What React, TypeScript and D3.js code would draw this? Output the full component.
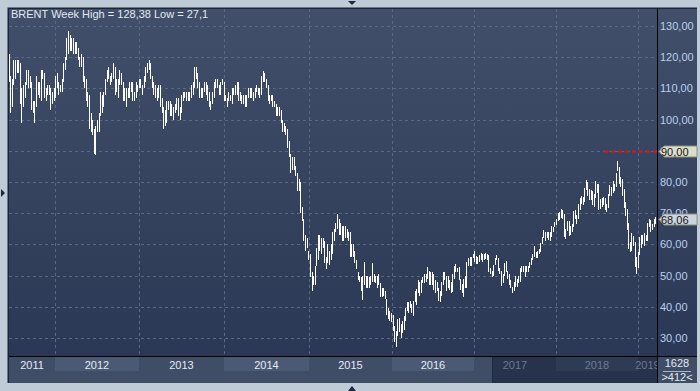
import { useEffect, useRef } from "react";
import * as d3 from "d3";

// weekly bars as [high, low]; the first one is the week of 13 Jun 2011
const weeks2011 = [
  [121, 112], [114, 102], [113, 104], [119, 111], [119, 113], [119, 115], [119, 115],
  [118, 105], [110, 99], [111, 104], [112, 107], [116, 111], [116, 110], [114, 110],
  [112, 103], [106, 102], [106, 99], [114, 104], [112, 108], [112, 107], [116, 106],
  [116, 113], [115, 107], [110, 106], [111, 108], [111, 108], [110, 103], [109, 105],
  [110, 106],
];
const weeks2012 = [
  [114, 107], [115, 110], [112, 108], [111, 109], [113, 109], [118, 112], [120, 116],
  [126, 119], [128.38, 121], [127, 122], [126, 122], [126, 121], [125, 121], [125, 121],
  [123, 119], [120, 117], [121, 117], [120, 112], [114, 110], [113, 106], [109, 104],
  [108, 97], [102, 96], [100, 95], [97, 89], [98, 88.5], [100, 96], [102, 96],
  [109, 101], [108, 102], [109, 104], [113, 108], [116, 112], [117, 113], [114, 111],
  [115, 112], [118, 113], [117, 108], [113, 109], [113, 107], [116, 111], [115, 111],
  [112, 106], [110, 106], [110, 104], [110, 107], [112, 107], [112, 109], [112, 106],
  [109, 106], [112, 107], [111, 109], [113, 110],
];
const weeks2013 = [
  [113, 110], [111, 108], [114, 110], [117, 112], [118, 115], [119, 116], [118, 113],
  [114, 110], [112, 108], [111, 107], [110, 106], [111, 107], [111, 104], [107, 102],
  [104, 97], [103, 98], [106, 99], [106, 103], [106, 101], [105, 101], [104, 100],
  [105, 102], [107, 103], [107, 101], [104, 100], [108, 102], [109, 106], [109, 107],
  [109, 106], [109, 106], [109, 106], [111, 107], [112, 108], [117, 110], [117, 113],
  [115, 110], [112, 107], [110, 107], [110, 107], [112, 109], [112, 108], [111, 106],
  [109, 104], [106, 103], [109, 105], [112, 107], [113, 110], [113, 110], [111, 108],
  [112, 108], [113, 111], [112, 106],
];
const weeks2014 = [
  [108, 106], [107, 104], [109, 106], [108, 106], [110, 105], [110, 108], [111, 108],
  [112, 108], [112, 106], [109, 106], [108, 105], [108, 105], [108, 104], [108, 104],
  [110, 107], [110, 107], [110, 107], [109, 106], [110, 107], [111, 109], [110, 108],
  [110, 107], [114, 108], [115.7, 112], [115, 112], [113, 110], [111, 106], [108, 105],
  [108, 106], [108, 104], [106, 104], [105, 101], [104, 101], [104, 101], [103, 99],
  [100, 96], [99, 96], [98, 95], [97, 91], [93, 88], [89, 83], [88, 84], [88, 84],
  [85, 82], [83, 77], [81, 77], [80, 70], [72, 67.5], [68, 61], [63, 58], [62, 59],
  [58, 55],
];
const weeks2015 = [
  [57, 49.7], [51, 45.2], [50, 47], [53, 47], [59, 53], [63, 55], [63, 58], [62, 57],
  [62, 59], [61, 54], [56, 52], [60, 54], [58, 53.5], [60, 55], [64, 57], [65, 61],
  [67, 64], [69.6, 65], [68, 63], [67, 63], [66, 61], [66, 61], [66, 62], [65, 62],
  [64, 61], [64, 56], [60, 56], [60, 56], [58, 54], [55, 52], [51, 48.5], [50, 48],
  [49.5, 45], [50, 42.2], [54.2, 47], [50, 46], [50, 46], [49.5, 46], [50, 47], [54, 48],
  [50.5, 48], [50, 47.5], [50, 46], [50.5, 47], [47.5, 43], [46, 43], [46, 43.5],
  [45, 42.5], [42.5, 37.5], [39.5, 36], [38.5, 35.5], [38, 35],
];
const weeks2016 = [
  [37.5, 32.2], [34, 28.8], [32.2, 27.1], [36, 30.5], [36.3, 32], [34.5, 30], [35.5, 31.5],
  [37, 32.5], [39.7, 35.5], [41.5, 38.5], [41.6, 38], [41.8, 39.5], [41, 38], [42, 37],
  [45, 41.5], [45.8, 40.5], [48.5, 44.5], [47.8, 43.5], [48.5, 44.5], [49.5, 47.5],
  [50.5, 47.5], [50.5, 48], [52.8, 49], [51.5, 47], [51.3, 47], [51, 47], [50.5, 45.5],
  [48.5, 44.5], [48, 45], [46, 42], [45.2, 41.5], [48, 43.5], [51.2, 47], [51, 48.5],
  [50, 45], [50, 46], [48.5, 45.5], [48, 44.5], [50.5, 44.8], [53, 49], [53.7, 51],
  [52.5, 51], [52.8, 48.5], [49, 45.5], [47.4, 44.5], [48.8, 43], [50, 46], [54.5, 46],
  [55.5, 53], [56, 53], [56, 53], [57, 55.8],
];
const weeks2017 = [
  [58, 54.5], [56.2, 53.6], [56, 53.6], [56.7, 54.2], [57.2, 55], [57, 54.5], [57, 55],
  [57.3, 55.4], [57, 55], [56.5, 51], [52.5, 50.5], [51.5, 49.7], [53.5, 50], [55.5, 53.5],
  [56.6, 55], [55.5, 51.5], [52.5, 50.5], [51.5, 46.6], [50.5, 47.5], [54, 50], [54.6, 51],
  [51.5, 49], [50.5, 47], [48.5, 46], [46.5, 44.4], [48, 45], [50, 46.5], [49, 46.5],
  [50, 47.5], [52.5, 48], [53, 51], [53, 51], [53, 49.5], [53, 51], [53, 51], [54.5, 52.5],
  [55.8, 53.5], [57, 55], [59.5, 56], [57.5, 55.5], [58, 55.5], [58.5, 57], [60.5, 57.5],
  [62.5, 60], [64.6, 62], [64, 61], [64, 62], [64, 61.5], [64, 61], [65.8, 62.5],
  [65.5, 64], [67.2, 65.5],
];
const weeks2018 = [
  [68.3, 66.3], [70, 67.5], [70.4, 67.9], [71.3, 68.5], [71, 68], [69.8, 62.5], [65, 61.8],
  [67.6, 64.3], [67.6, 62.8], [66, 63], [66.5, 64], [70.6, 65.5], [71, 68.3], [69.5, 66.6],
  [73, 68], [74.8, 71], [75.5, 73], [75.3, 72.5], [78, 73.5], [80.5, 77.5], [80, 75.5],
  [77.8, 74.2], [77.5, 74.3], [77, 72.5], [76, 71.9], [80.2, 74.8], [79.5, 76.5],
  [79.5, 71], [74.5, 71.5], [75, 72], [75.3, 72.5], [75, 71], [73, 70.3], [76, 71.6],
  [79, 75.5], [78.5, 75.6], [80.2, 76.5], [79.5, 77], [83, 78.5], [86.7, 83.5],
  [84.7, 79.5], [81.5, 78.5], [81, 75.5], [77.8, 71.8], [73.5, 69.1], [71.5, 64.5],
  [67, 58.4], [60.8, 57.5], [63.7, 57.9], [62.8, 59.5], [60.8, 52.8], [56, 50.5],
  [57.5, 52.5],
];
const weeks2019 = [
  [62.3, 56.5], [63, 58.7], [63, 60], [63.5, 59.5], [63, 61], [66.8, 61], [68, 65.5],
  [67.7, 64], [66.5, 64.5], [68.3, 65.5], [68.7, 66.5], [68.3, 66.3],
];

const yearLabels = ["2011", "2012", "2013", "2014", "2015", "2016", "2017", "2018", "2019"];
const priceTicks = [30, 40, 50, 60, 70, 80, 90, 100, 110, 120, 130];
const alertLevel = 90;
const lastPrice = 68.06;
const titleText = "BRENT Week High = 128,38 Low = 27,1";
const totalBars = "1628";
const shownBars = ">412<";

const W = 700;
const H = 391;
const FONT = "'Liberation Sans', Arial, sans-serif";

function BrentChart() {
  const svgRef = useRef<SVGSVGElement>(null);

  useEffect(() => {
    const svg = d3.select(svgRef.current);
    svg.selectAll("*").remove();

    const left = 9;
    const right = 657;
    const top = 8;
    const plotBottom = 356;
    const axisBottom = 383;
    const panelRight = 697;
    const scrollEdge = 492;

    const weeks = [
      ...weeks2011, ...weeks2012, ...weeks2013, ...weeks2014, ...weeks2015,
      ...weeks2016, ...weeks2017, ...weeks2018, ...weeks2019,
    ];
    const firstWeek = new Date(Date.UTC(2011, 5, 13));
    const bars = weeks.map((w, i) => ({ date: d3.utcDay.offset(firstWeek, i * 7), high: w[0], low: w[1] }));

    const yearStarts = yearLabels.map((yr) => new Date(Date.UTC(+yr, 0, 1)));
    // the chart is bar-indexed, so year widths differ slightly: piecewise time scale
    const x = d3
      .scaleUtc()
      .domain(yearStarts.slice(1))
      .range([55, 139, 224, 309, 392, 474, 556, 638]);
    const y = d3.scaleLinear().domain([30, 130]).range([338, 26]);

    const defs = svg.append("defs");
    const grad = defs
      .append("linearGradient")
      .attr("id", "bg")
      .attr("x1", 0).attr("y1", 0).attr("x2", 0).attr("y2", 1);
    grad.append("stop").attr("offset", "0%").attr("stop-color", "#414f6a");
    grad.append("stop").attr("offset", "100%").attr("stop-color", "#2a3855");
    defs
      .append("clipPath")
      .attr("id", "plotClip")
      .append("rect")
      .attr("x", left).attr("y", top).attr("width", right - left).attr("height", axisBottom - top);

    // frame
    svg.append("rect").attr("width", W).attr("height", H).attr("fill", "#c0cbd8");
    svg.append("rect")
      .attr("x", 7.5).attr("y", 7.5).attr("width", panelRight - 7.5).attr("height", axisBottom - 7.5)
      .attr("fill", "#1c2535");
    svg.append("rect")
      .attr("x", left).attr("y", top + 1).attr("width", panelRight - left).attr("height", plotBottom - top - 1)
      .attr("fill", "url(#bg)");

    // x axis band
    svg.append("rect")
      .attr("x", left).attr("y", plotBottom + 1).attr("width", panelRight - left).attr("height", axisBottom - plotBottom - 1)
      .attr("fill", "#3f4d66");
    svg.append("rect")
      .attr("x", scrollEdge).attr("y", plotBottom + 1).attr("width", right - scrollEdge).attr("height", axisBottom - plotBottom - 1)
      .attr("fill", "#27334c");
    svg.append("line")
      .attr("x1", scrollEdge + 0.5).attr("x2", scrollEdge + 0.5).attr("y1", plotBottom + 1).attr("y2", axisBottom)
      .attr("stroke", "#1f2a3f");

    const band = svg.append("g").attr("clip-path", "url(#plotClip)");
    yearLabels.forEach((yr, i) => {
      const x0 = Math.max(left, x(yearStarts[i]));
      const x1 = Math.min(right, x(new Date(Date.UTC(+yr + 1, 0, 1))));
      const cx = (x0 + x1) / 2;
      const faded = cx > scrollEdge;
      if (i % 2 === 1) {
        band.append("rect")
          .attr("x", Math.round(x0)).attr("y", plotBottom + 1).attr("width", Math.round(x1 - x0)).attr("height", 14)
          .attr("fill", faded ? "#2e3b55" : "#4b5a74");
      }
      band.append("text")
        .attr("x", cx).attr("y", plotBottom + 12.5)
        .attr("text-anchor", "middle")
        .attr("font-family", FONT).attr("font-size", 11)
        .attr("fill", faded ? "#6c7990" : "#e6ebf3")
        .text(yr);
    });

    // grid
    const grid = svg.append("g").attr("stroke", "#5a6983").attr("stroke-dasharray", "3,3");
    priceTicks.forEach((t) => {
      grid.append("line")
        .attr("x1", left).attr("x2", right)
        .attr("y1", Math.round(y(t)) + 0.5).attr("y2", Math.round(y(t)) + 0.5);
    });
    yearStarts.slice(1).forEach((d) => {
      grid.append("line")
        .attr("x1", Math.round(x(d)) + 0.5).attr("x2", Math.round(x(d)) + 0.5)
        .attr("y1", top + 1).attr("y2", plotBottom);
    });

    // weekly high-low bars
    svg.append("g")
      .attr("clip-path", "url(#plotClip)")
      .selectAll("rect")
      .data(bars)
      .join("rect")
      .attr("x", (d) => Math.round(x(d.date)))
      .attr("y", (d) => Math.round(y(d.high)))
      .attr("width", 1)
      .attr("height", (d) => Math.max(1, Math.round(y(d.low)) - Math.round(y(d.high))))
      .attr("fill", "#ffffff");

    // alert line
    svg.append("line")
      .attr("x1", 604).attr("x2", right)
      .attr("y1", Math.round(y(alertLevel)) + 0.5).attr("y2", Math.round(y(alertLevel)) + 0.5)
      .attr("stroke", "#d81818").attr("stroke-width", 2).attr("stroke-dasharray", "4,3");

    // separators
    svg.append("line")
      .attr("x1", left).attr("x2", panelRight).attr("y1", plotBottom + 0.5).attr("y2", plotBottom + 0.5)
      .attr("stroke", "#000");
    svg.append("line")
      .attr("x1", right + 0.5).attr("x2", right + 0.5).attr("y1", top).attr("y2", axisBottom)
      .attr("stroke", "#000");

    // price labels
    const fmt = (v: number) => d3.format(".2f")(v).replace(".", ",");
    priceTicks.forEach((t) => {
      svg.append("text")
        .attr("x", 660).attr("y", y(t) + 4)
        .attr("font-family", FONT).attr("font-size", 11)
        .attr("fill", "#b9d0ee")
        .text(fmt(t));
    });

    const marker = (v: number, fill: string) => {
      const cy = Math.round(y(v)) + 0.5;
      const tip = right + 2;
      svg.append("path")
        .attr("d", `M${tip},${cy} L${tip + 5},${cy - 5.5} L${panelRight},${cy - 5.5} L${panelRight},${cy + 5.5} L${tip + 5},${cy + 5.5} Z`)
        .attr("fill", fill).attr("stroke", "#8a8c86");
      svg.append("text")
        .attr("x", 661).attr("y", cy + 4)
        .attr("font-family", FONT).attr("font-size", 11)
        .attr("fill", "#151515")
        .text(fmt(v));
    };
    marker(alertLevel, "#dedec8");
    marker(lastPrice, "#cdd3dc");

    // title
    svg.append("text")
      .attr("x", 11).attr("y", 18)
      .attr("font-family", FONT).attr("font-size", 11)
      .attr("fill", "#e4e9f1")
      .text(titleText);

    // bar counter
    svg.append("text")
      .attr("x", 677).attr("y", 367)
      .attr("text-anchor", "middle")
      .attr("font-family", FONT).attr("font-size", 11)
      .attr("fill", "#e4e9f1")
      .text(totalBars);
    svg.append("line")
      .attr("x1", 663).attr("x2", 691).attr("y1", 371.5).attr("y2", 371.5)
      .attr("stroke", "#aab4c4");
    svg.append("text")
      .attr("x", 677).attr("y", 381)
      .attr("text-anchor", "middle")
      .attr("font-family", FONT).attr("font-size", 11)
      .attr("fill", "#e4e9f1")
      .text(shownBars);

    // scroll arrows
    const arrow = "#1d293b";
    svg.append("path").attr("d", "M348,1 L356,1 L352,5 Z").attr("fill", arrow);
    svg.append("path").attr("d", "M1,189 L5,193 L1,197 Z").attr("fill", arrow);
    svg.append("path").attr("d", "M348,391 L356,391 L352,386 Z").attr("fill", arrow);
  }, []);

  return <svg ref={svgRef} width={W} height={H} style={{ position: "absolute", left: 0, top: 0, display: "block" }} />;
}

export default function App() {
  return <BrentChart />;
}
